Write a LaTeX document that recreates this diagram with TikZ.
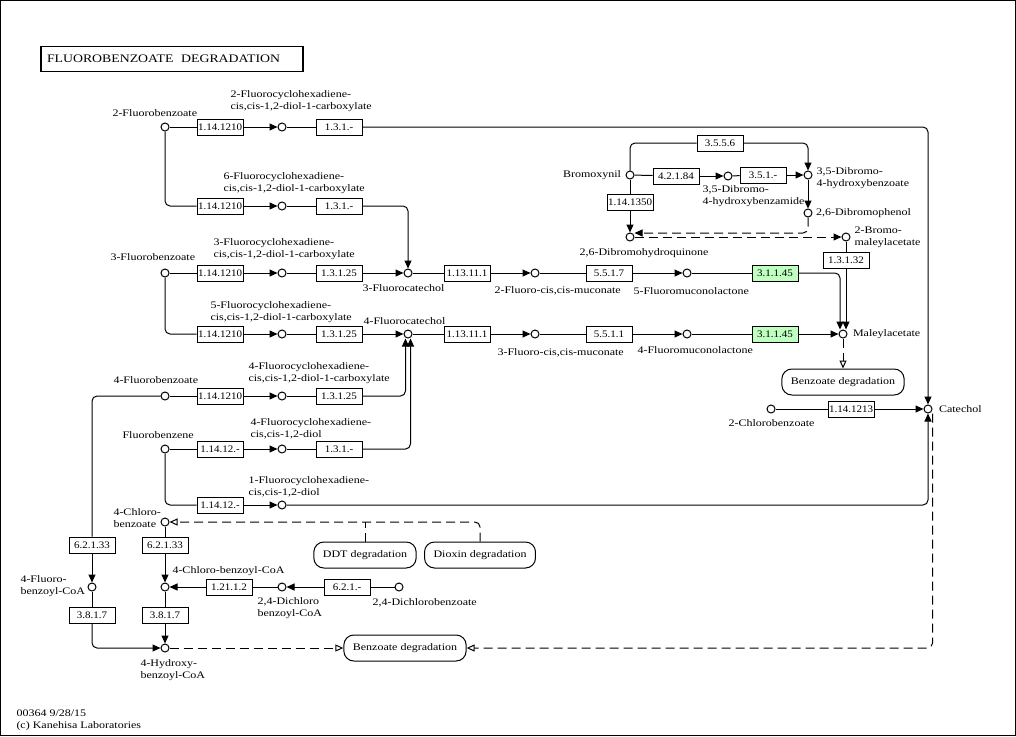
\documentclass[tikz,border=0pt]{standalone}
\usepackage{fontspec}
\setmainfont{Liberation Serif}[FakeStretch=1.2]
\newfontfamily\enzfamily{Liberation Serif}[FakeStretch=1.1]
\usetikzlibrary{arrows.meta,positioning}

\definecolor{hitgreen}{RGB}{191,255,191}
\newcommand{\lblfont}{\fontsize{10}{12}\selectfont}
\newcommand{\enzfont}{\enzfamily\fontsize{10}{11}\selectfont}

\tikzset{
  cpd/.style={circle,draw,minimum size=8pt,inner sep=0pt,fill=white},
  enz/.style={draw,minimum width=46pt,minimum height=16pt,inner sep=0pt,font=\enzfont,fill=white},
  hit/.style={enz,fill=hitgreen},
  mapbox/.style={draw,rounded corners=10pt,minimum height=26pt,inner xsep=9pt,font=\lblfont},
  lbl/.style={inner sep=0pt,font=\lblfont,align=left,anchor=west},
  rxn/.style={-{Triangle[length=8pt,width=7pt]}},
  link/.style={dash pattern=on 9pt off 5pt,-{Triangle[open,length=8pt,width=7pt]}},
}

\begin{document}
\begin{tikzpicture}[x=1pt,y=-1pt,line width=1pt]
    \useasboundingbox (0,0) rectangle (1016,736);
    \draw (0.5,0.5) rectangle (1015.5,735.5);
    \node[draw,line width=1.8pt,minimum width=262pt,minimum height=25pt,text width=250pt,inner xsep=6pt,align=left,font=\fontsize{11.5}{13}\selectfont] (title) at (172,59) {FLUOROBENZOATE\ \ DEGRADATION};

    % compounds
    \node[cpd] (fb2)     at (165,127) {};
    \node[cpd] (diol2c)  at (282,127) {};
    \node[cpd] (diol6c)  at (282,206) {};
    \node[cpd] (fb3)     at (165,273) {};
    \node[cpd] (diol3c)  at (282,273) {};
    \node[cpd] (fcat3)   at (408,273) {};
    \node[cpd] (muc2)    at (535,273) {};
    \node[cpd] (lac5)    at (687,273) {};
    \node[cpd] (diol5c)  at (282,334) {};
    \node[cpd] (fcat4)   at (408,334) {};
    \node[cpd] (muc3)    at (535,334) {};
    \node[cpd] (lac4)    at (687,334) {};
    \node[cpd] (maley)   at (843,334) {};
    \node[cpd] (fb4)     at (165,396) {};
    \node[cpd] (diol4c)  at (282,396) {};
    \node[cpd] (fbz)     at (165,449) {};
    \node[cpd] (diol4)   at (282,449) {};
    \node[cpd] (diol1)   at (282,505) {};
    \node[cpd] (cbz4)    at (165,522) {};
    \node[cpd] (fbcoa4)  at (92,587) {};
    \node[cpd] (cbcoa4)  at (165,587) {};
    \node[cpd] (dcbcoa)  at (282,587) {};
    \node[cpd] (dcb)     at (399,587) {};
    \node[cpd] (hbcoa4)  at (165,648) {};
    \node[cpd] (cbz2)    at (771,409) {};
    \node[cpd] (catechol) at (928,409) {};
    \node[cpd] (bromox)  at (630,175) {};
    \node[cpd] (amide)   at (728,176) {};
    \node[cpd] (dbhb)    at (808,175) {};
    \node[cpd] (dbphenol) at (808,213) {};
    \node[cpd] (dbhq)    at (630,237) {};
    \node[cpd] (bromomaley) at (846,237) {};

    % enzymes
    \node[enz] (e1a) at (220,127) {1.14.1210};
    \node[enz] (e1b) at (339,127) {1.3.1.-};
    \node[enz] (e2a) at (220,206) {1.14.1210};
    \node[enz] (e2b) at (339,206) {1.3.1.-};
    \node[enz] (e3a) at (220,273) {1.14.1210};
    \node[enz] (e3b) at (339,273) {1.3.1.25};
    \node[enz] (e3c) at (467,273) {1.13.11.1};
    \node[enz] (e3d) at (609,273) {5.5.1.7};
    \node[hit] (e3e) at (775,273) {3.1.1.45};
    \node[enz] (e4a) at (220,334) {1.14.1210};
    \node[enz] (e4b) at (339,334) {1.3.1.25};
    \node[enz] (e4c) at (467,334) {1.13.11.1};
    \node[enz] (e4d) at (609,334) {5.5.1.1};
    \node[hit] (e4e) at (775,334) {3.1.1.45};
    \node[enz] (e5a) at (220,396) {1.14.1210};
    \node[enz] (e5b) at (339,396) {1.3.1.25};
    \node[enz] (e5c) at (92,545) {6.2.1.33};
    \node[enz] (e6a) at (220,449) {1.14.12.-};
    \node[enz] (e6b) at (339,449) {1.3.1.-};
    \node[enz] (e7a) at (220,505) {1.14.12.-};
    \node[enz] (e8a) at (676,176) {4.2.1.84};
    \node[enz] (e8b) at (763,175) {3.5.1.-};
    \node[enz] (e8c) at (720,143) {3.5.5.6};
    \node[enz] (e8d) at (630,202) {1.14.1350};
    \node[enz] (e8e) at (846,260) {1.3.1.32};
    \node[enz] (e9)  at (851,409) {1.14.1213};
    \node[enz] (e10a) at (165,545) {6.2.1.33};
    \node[enz] (e10b) at (229,587) {1.21.1.2};
    \node[enz] (e10c) at (347,587) {6.2.1.-};
    \node[enz] (e10d) at (165,615) {3.8.1.7};
    \node[enz] (e10e) at (92,615) {3.8.1.7};

    % maps
    \node[mapbox] (mapbenz1)  at (843,382) {Benzoate degradation};
    \node[mapbox] (mapddt)    at (365,555) {DDT degradation};
    \node[mapbox] (mapdioxin) at (480,555) {Dioxin degradation};
    \node[mapbox] (mapbenz2)  at (405,648) {Benzoate degradation};

    % labels
    \node[lbl] at (112,113) {2-Fluorobenzoate};
    \node[lbl] at (230,101) {2-Fluorocyclohexadiene-\\cis,cis-1,2-diol-1-carboxylate};
    \node[lbl] at (223,183) {6-Fluorocyclohexadiene-\\cis,cis-1,2-diol-1-carboxylate};
    \node[lbl] at (110,257) {3-Fluorobenzoate};
    \node[lbl] at (213,249.5) {3-Fluorocyclohexadiene-\\cis,cis-1,2-diol-1-carboxylate};
    \node[lbl] at (362,288) {3-Fluorocatechol};
    \node[lbl] at (210,312) {5-Fluorocyclohexadiene-\\cis,cis-1,2-diol-1-carboxylate};
    \node[lbl] at (363,321) {4-Fluorocatechol};
    \node[lbl] at (494,291) {2-Fluoro-cis,cis-muconate};
    \node[lbl] at (633,291) {5-Fluoromuconolactone};
    \node[lbl] at (497,353) {3-Fluoro-cis,cis-muconate};
    \node[lbl] at (637,350) {4-Fluoromuconolactone};
    \node[lbl,right=5pt of maley] {Maleylacetate};
    \node[lbl] at (113,380) {4-Fluorobenzoate};
    \node[lbl] at (248,373) {4-Fluorocyclohexadiene-\\cis,cis-1,2-diol-1-carboxylate};
    \node[lbl] at (122,435) {Fluorobenzene};
    \node[lbl] at (250,429) {4-Fluorocyclohexadiene-\\cis,cis-1,2-diol};
    \node[lbl] at (248,487) {1-Fluorocyclohexadiene-\\cis,cis-1,2-diol};
    \node[lbl] at (113,518) {4-Chloro-\\benzoate};
    \node[lbl] at (20,586) {4-Fluoro-\\benzoyl-CoA};
    \node[lbl] at (172,571) {4-Chloro-benzoyl-CoA};
    \node[lbl] at (257,608) {2,4-Dichloro\\benzoyl-CoA};
    \node[lbl] at (372,603) {2,4-Dichlorobenzoate};
    \node[lbl] at (140,670) {4-Hydroxy-\\benzoyl-CoA};
    \node[lbl] at (728,423) {2-Chlorobenzoate};
    \node[lbl,right=6pt of catechol] {Catechol};
    \node[lbl,left=4pt of bromox] {Bromoxynil};
    \node[lbl] at (816,178) {3,5-Dibromo-\\4-hydroxybenzoate};
    \node[lbl] at (702,196) {3,5-Dibromo-\\4-hydroxybenzamide};
    \node[lbl,right=3pt of dbphenol] {2,6-Dibromophenol};
    \node[lbl] at (579,253) {2,6-Dibromohydroquinone};
    \node[lbl] at (854,237) {2-Bromo-\\maleylacetate};
    \node[lbl] at (16,713) {00364 9/28/15};
    \node[lbl] at (16,726) {(c) Kanehisa Laboratories};

    % 2-fluorobenzoate
    \draw (fb2) -- (e1a);
    \draw[rxn] (e1a) -- (diol2c);
    \draw (diol2c) -- (e1b);
    \draw[rxn,rounded corners=5pt] (e1b.east) -| (catechol.north);
    \draw[rounded corners=5pt] (fb2.south) |- (e2a.west);
    \draw[rxn] (e2a) -- (diol6c);
    \draw (diol6c) -- (e2b);
    \draw[rxn,rounded corners=5pt] (e2b.east) -| (fcat3.north);

    % 3-fluorobenzoate
    \draw (fb3) -- (e3a);
    \draw[rxn] (e3a) -- (diol3c);
    \draw (diol3c) -- (e3b);
    \draw[rxn] (e3b) -- (fcat3);
    \draw (fcat3) -- (e3c);
    \draw[rxn] (e3c) -- (muc2);
    \draw (muc2) -- (e3d);
    \draw[rxn] (e3d) -- (lac5);
    \draw (lac5) -- (e3e);
    \draw[rxn,rounded corners=5pt] (e3e.east) -| ([xshift=-3pt]maley.north);
    \draw[rounded corners=5pt] (fb3.south) |- (e4a.west);
    \draw[rxn] (e4a) -- (diol5c);
    \draw (diol5c) -- (e4b);
    \draw[rxn] (e4b) -- (fcat4);
    \draw (fcat4) -- (e4c);
    \draw[rxn] (e4c) -- (muc3);
    \draw (muc3) -- (e4d);
    \draw[rxn] (e4d) -- (lac4);
    \draw (lac4) -- (e4e);
    \draw[rxn] (e4e) -- (maley);
    \draw[link] (maley) -- (mapbenz1);

    % 4-fluorobenzoate and fluorobenzene
    \draw (fb4) -- (e5a);
    \draw[rxn] (e5a) -- (diol4c);
    \draw (diol4c) -- (e5b);
    \draw[rxn,rounded corners=5pt] (e5b.east) -| ([xshift=-2.5pt]fcat4.south);
    \draw[rounded corners=5pt] (fb4.west) -| (e5c.north);
    \draw[rxn] (e5c) -- (fbcoa4);
    \draw (fbz) -- (e6a);
    \draw[rxn] (e6a) -- (diol4);
    \draw (diol4) -- (e6b);
    \draw[rxn,rounded corners=5pt] (e6b.east) -| ([xshift=2.5pt]fcat4.south);
    \draw[rounded corners=5pt] (fbz.south) |- (e7a.west);
    \draw[rxn] (e7a) -- (diol1);
    \draw[rxn,rounded corners=5pt] (diol1.east) -| (catechol.south);
    \draw (cbz2) -- (e9);
    \draw[rxn] (e9) -- (catechol);

    % bromoxynil
    \draw (bromox) -- (e8a);
    \draw[rxn] (e8a) -- (amide);
    \draw (amide) -- (e8b);
    \draw[rxn] (e8b) -- (dbhb);
    \draw[rounded corners=5pt] (bromox.north) |- (e8c.west);
    \draw[rxn,rounded corners=5pt] (e8c.east) -| (dbhb.north);
    \draw (bromox) -- (e8d);
    \draw[rxn] (e8d) -- (dbhq);
    \draw[rxn] (dbhb) -- (dbphenol);
    \draw[rxn,dash pattern=on 9pt off 5pt,rounded corners=5pt] (dbphenol.south) |- ([yshift=4pt]dbhq.east);
    \draw[rxn,dash pattern=on 9pt off 5pt] (dbhq.east) -- (bromomaley.west);
    \draw (bromomaley) -- (e8e);
    \draw[rxn] (e8e.south) -- (e8e.south |- maley.north);

    % chlorobenzoates
    \draw[link,rounded corners=5pt] (mapdioxin.north) |- (cbz4.east);
    \draw[dash pattern=on 9pt off 5pt] (mapddt.north) -- (mapddt.north |- cbz4);
    \draw (cbz4) -- (e10a);
    \draw[rxn] (e10a) -- (cbcoa4);
    \draw (dcb) -- (e10c);
    \draw[rxn] (e10c) -- (dcbcoa);
    \draw (dcbcoa) -- (e10b);
    \draw[rxn] (e10b) -- (cbcoa4);
    \draw (cbcoa4) -- (e10d);
    \draw[rxn] (e10d) -- (hbcoa4);
    \draw (fbcoa4) -- (e10e);
    \draw[rxn,rounded corners=5pt] (e10e.south) |- (hbcoa4.west);
    \draw[link] (hbcoa4) -- (mapbenz2);
    \draw[link,rounded corners=5pt] ([xshift=4.5pt]catechol.south) |- (mapbenz2.east);
\end{tikzpicture}
\end{document}
